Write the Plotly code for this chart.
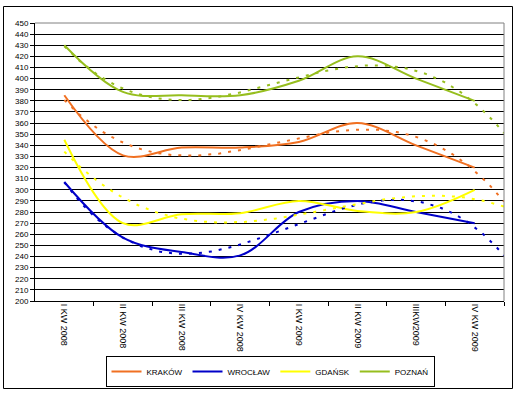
import numpy as np
import plotly.graph_objects as go

categories = ["I KW 2008", "II KW 2008", "III KW 2008", "IV KW 2008",
              "I KW 2009", "II KW 2009", "IIIKW2009", "IV KW 2009"]
krakow = [385, 331, 338, 338, 343, 360, 340, 320]
wroclaw = [307, 257, 244, 241, 280, 290, 280, 270]
gdansk = [345, 270, 278, 279, 290, 281, 280, 300]
poznan = [430, 388, 385, 385, 398, 420, 400, 380]
y_ticks = list(range(200, 451, 10))

series = [("KRAKÓW", krakow, "#F07022"),
          ("WROCŁAW", wroclaw, "#0000C8"),
          ("GDAŃSK", gdansk, "#FFFF00"),
          ("POZNAŃ", poznan, "#96BE1E")]

# layout geometry (pixels)
W, H = 519, 396
L, R, T, B = 35, 15, 23, 95
pw, ph = W - L - R, H - T - B

def px_x(p):
    return (p - L) / pw

def px_y(p):
    return (H - B - p) / ph

xi = np.arange(len(categories))
fig = go.Figure()
for name, vals, col in series:
    fig.add_trace(go.Scatter(x=xi, y=vals, mode="lines", name=name,
                             line=dict(color=col, width=2, shape="spline", smoothing=1.0)))
# polynomial trendlines (order 3), forecast forward half a period
xt = np.linspace(0, len(categories) - 0.5, 120)
for name, vals, col in series:
    coef = np.polyfit(xi, vals, 3)
    fig.add_trace(go.Scatter(x=xt, y=np.polyval(coef, xt), mode="lines", showlegend=False,
                             hoverinfo="skip",
                             line=dict(color=col, width=2, dash="3px,7px")))

fig.update_layout(
    width=W, height=H,
    margin=dict(l=L, r=R, t=T, b=B, autoexpand=False),
    paper_bgcolor="white", plot_bgcolor="white",
    font=dict(family="Liberation Sans, Arial", size=9, color="black"),
    showlegend=True,
    legend=dict(orientation="h", x=px_x(270), xanchor="center", y=px_y(387), yanchor="bottom",
                bordercolor="black", borderwidth=1, font=dict(size=8),
                itemwidth=30, tracegroupgap=0),
    xaxis=dict(range=[-0.5, len(categories) - 0.5], tickvals=list(xi), ticktext=categories,
               tickangle=90, ticks="", showgrid=False, zeroline=False, automargin=False,
               showline=True, linecolor="black", linewidth=1,
               tickfont=dict(size=9),
               minor=dict(tickvals=[i + 0.5 for i in range(len(categories))],
                          ticks="outside", ticklen=4, tickcolor="black", showgrid=False)),
    yaxis=dict(range=[200, 450], tickvals=y_ticks, ticks="outside", ticklen=4,
               tickcolor="black", showgrid=True, gridcolor="black", gridwidth=1,
               zeroline=False, showline=True, linecolor="black", linewidth=1,
               automargin=False, tickfont=dict(size=8)),
    shapes=[
        dict(type="line", xref="paper", yref="paper", x0=0, x1=1, y0=1, y1=1,
             line=dict(color="#808080", width=1), layer="above"),
        dict(type="line", xref="paper", yref="paper", x0=1, x1=1, y0=0, y1=1,
             line=dict(color="#808080", width=1), layer="above"),
        dict(type="rect", xref="paper", yref="paper",
             x0=px_x(3.5), x1=px_x(512.5), y0=px_y(388.5), y1=px_y(6.5),
             line=dict(color="black", width=1), layer="below"),
    ],
)
fig.write_html("out.html", config={"displayModeBar": False},
               post_script="document.body.style.margin='0';document.body.style.overflow='hidden';")
